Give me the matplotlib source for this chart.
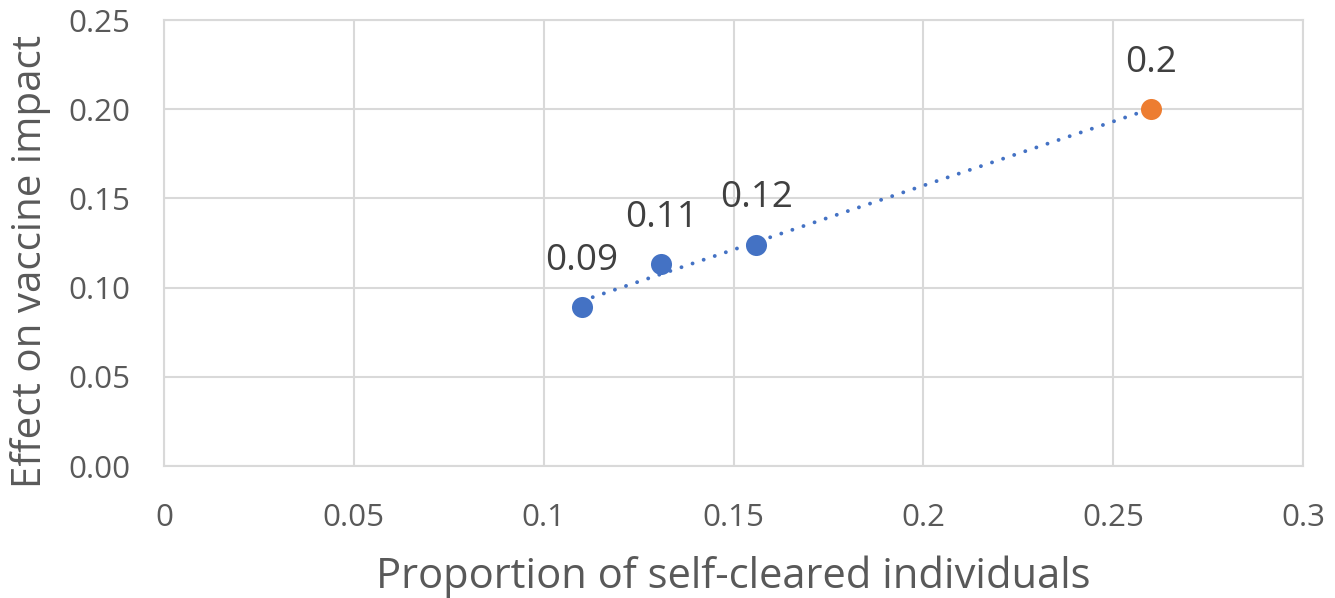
import matplotlib
matplotlib.use("Agg")
import matplotlib.pyplot as plt
import numpy as np

plt.rcParams['font.family'] = ['Open Sans', 'DejaVu Sans']

# Data
x_blue = [0.110, 0.131, 0.156]
y_blue = [0.089, 0.113, 0.124]
x_orange = [0.260]
y_orange = [0.200]
labels_blue = ["0.09", "0.11", "0.12"]
labels_orange = ["0.2"]

x_ticks = [0, 0.05, 0.1, 0.15, 0.2, 0.25, 0.3]
x_ticklabels = ["0", "0.05", "0.1", "0.15", "0.2", "0.25", "0.3"]
y_ticks = [0.0, 0.05, 0.10, 0.15, 0.20, 0.25]
y_ticklabels = ["0.00", "0.05", "0.10", "0.15", "0.20", "0.25"]

BLUE = "#4472C4"
ORANGE = "#ED7D31"
GRID = "#D9D9D9"
TICK = "#595959"
LABEL = "#404040"

fig = plt.figure(figsize=(13.35, 5.98), dpi=100)
ax = fig.add_axes([164/1335, 1-466/598, (1303-164)/1335, (466-20)/598])

ax.set_xlim(0, 0.3)
ax.set_ylim(0, 0.25)
ax.set_xticks(x_ticks)
ax.set_xticklabels(x_ticklabels)
ax.set_yticks(y_ticks)
ax.set_yticklabels(y_ticklabels)
ax.grid(True, color=GRID, linewidth=1.5)
ax.set_axisbelow(True)
for s in ax.spines.values():
    s.set_color(GRID)
    s.set_linewidth(1.5)
ax.tick_params(length=0, colors=TICK, labelsize=22.5)
ax.tick_params(axis='x', pad=27)
ax.tick_params(axis='y', pad=24)

# Trendline (linear fit over all points)
all_x = np.array(x_blue + x_orange)
all_y = np.array(y_blue + y_orange)
m, b = np.polyfit(all_x, all_y, 1)
tx = np.array([all_x.min(), all_x.max()])
ax.plot(tx, m*tx + b, color=BLUE, linewidth=2.8, linestyle=(0, (0.01, 3.0)),
        dash_capstyle='round', zorder=2)

ax.scatter(x_blue, y_blue, s=230, color=BLUE, zorder=3, linewidths=0)
ax.scatter(x_orange, y_orange, s=230, color=ORANGE, zorder=3, linewidths=0)

for xv, yv, lab in zip(x_blue + x_orange, y_blue + y_orange, labels_blue + labels_orange):
    ax.annotate(lab, (xv, yv), xytext=(0, 27), textcoords='offset points',
                ha='center', va='baseline', fontsize=26.5, color=LABEL)

ax.set_xlabel("Proportion of self-cleared individuals", fontsize=30, color=TICK,
              va='baseline')
ax.xaxis.set_label_coords(0.5, (466-588)/446)
ax.set_ylabel("Effect on vaccine impact", fontsize=29, color=TICK,
              va='center', ha='center')
ax.yaxis.set_label_coords((31-164)/1139, (466-261)/446)

fig.savefig("out.png", dpi=100)
